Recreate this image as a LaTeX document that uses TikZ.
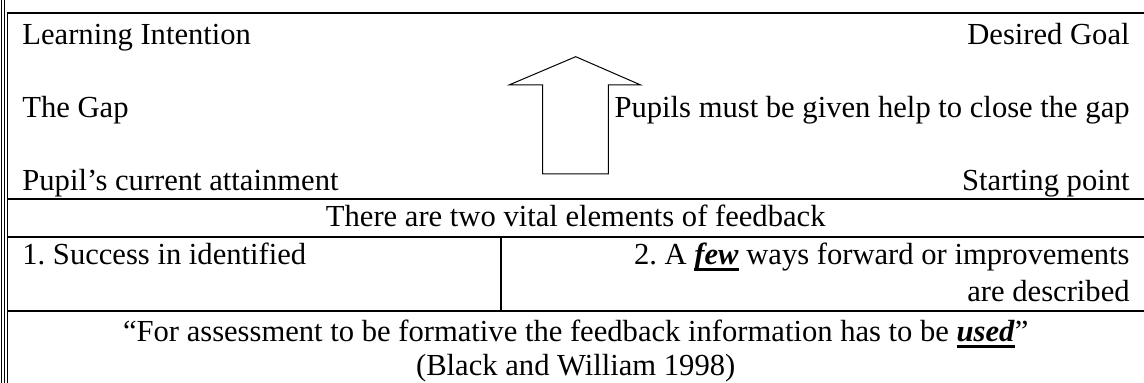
\documentclass[tikz,border=0pt]{standalone}
\usepackage{fontspec}
\setmainfont{Liberation Serif}
\usepackage{tikz}
\usetikzlibrary{positioning,calc}
\newcommand{\heavyul}[1]{\setbox0\hbox{#1}\rlap{\rule[-3pt]{\wd0}{1.3pt}}\box0\relax}

\begin{document}
\frenchspacing
\begin{tikzpicture}[x=0.5pt, y=-0.5pt, font=\fontsize{15.3}{18}\selectfont,
    rule/.style={line width=0.85pt},
    edge/.style={line width=0.65pt},
    lefttext/.style={anchor=base west, inner sep=0pt},
    righttext/.style={anchor=base east, inner sep=0pt},
    midtext/.style={anchor=base, inner sep=0pt}]
        \useasboundingbox (0,0) rectangle (1144,383);

        % table frame
        \draw[edge] (1.2,0) -- (1.2,383);
        \draw[edge] (4.6,0) -- (4.6,383);
        \draw[rule] (7.6,383) -- (7.6,13) -- (1144,13);
        \draw[rule] (7.6,199) -- (1144,199);
        \draw[rule] (7.6,237) -- (1144,237);
        \draw[rule] (7.6,311) -- (1144,311);
        \draw[rule] (501,237) -- (501,311);

        % top row
        \node[lefttext] (intent) at (22,45) {Learning Intention};
        \node[righttext] (goal) at (1130,45) {Desired Goal};
        \node[lefttext] (gap) at (22,118) {The Gap};
        \node[righttext] (help) at (1130,118) {Pupils must be given help to close the gap};
        \node[lefttext] (current) at (22,191) {Pupil’s current attainment};
        \node[righttext] (start) at (1130,191) {Starting point};

        % block arrow
        \draw[line width=0.5pt, line join=miter]
          (542.7,174) -- (542.7,85) -- (509,85) -- (575.7,56.7) -- (640.7,85)
          -- (608.3,85) -- (608.3,174) -- cycle;

        % feedback rows
        \node[midtext] (vital) at (575.7,227) {There are two vital elements of feedback};
        \node[lefttext] (success) at (22,265) {1. Success in identified};
        \node[righttext] (forward) at (1130,265) {2. A \heavyul{\textbf{\textit{few}}} ways forward or improvements};
        \node[righttext] (described) at (1130,302) {are described};
        \node[midtext] (quote) at (575.7,342) {“For assessment to be formative the feedback information has to be \heavyul{\textbf{\textit{used}}}”};
        \node[midtext] (source) at (575.7,376) {(Black and William 1998)};
      \end{tikzpicture}
\end{document}
